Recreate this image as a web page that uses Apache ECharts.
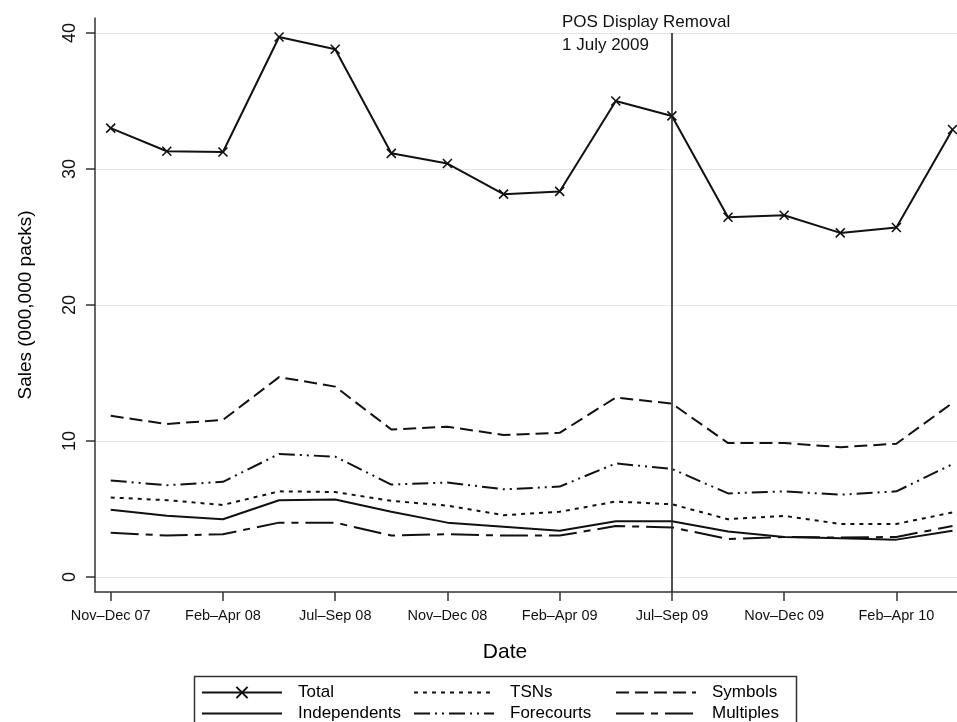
<!DOCTYPE html>
<html>
<head>
<meta charset="utf-8">
<script src="https://cdn.jsdelivr.net/npm/echarts@6/dist/echarts.min.js"></script>
<style>
html,body{margin:0;padding:0;background:#fff;}
#chart{width:957px;height:722px;}
</style>
</head>
<body>
<div id="chart"></div>
<script>
// ---- data ----
const categories = ["Nov–Dec 07","Jan 08","Feb–Apr 08","May–Jun 08","Jul–Sep 08","Oct 08","Nov–Dec 08","Jan 09","Feb–Apr 09","May–Jun 09","Jul–Sep 09","Oct 09","Nov–Dec 09","Jan 10","Feb–Apr 10","May–Jun 10"];
const labelledIdx = [0,2,4,6,8,10,12,14];
const yTicks = [0,10,20,30,40];
const total        = [33.0,31.3,31.25,39.7,38.8,31.15,30.4,28.15,28.35,35.0,33.9,26.45,26.6,25.3,25.7,32.9];
const tsns         = [5.85,5.65,5.3,6.3,6.25,5.6,5.25,4.55,4.8,5.55,5.35,4.25,4.5,3.9,3.9,4.75];
const symbols      = [11.85,11.25,11.55,14.7,14.0,10.85,11.05,10.45,10.6,13.2,12.75,9.85,9.85,9.55,9.8,12.8];
const independents = [4.95,4.5,4.25,5.65,5.7,4.8,4.0,3.7,3.4,4.1,4.1,3.35,2.95,2.85,2.75,3.4];
const forecourts   = [7.1,6.75,7.0,9.05,8.85,6.8,6.95,6.45,6.65,8.35,7.95,6.15,6.3,6.05,6.3,8.3];
const multiples    = [3.25,3.05,3.15,4.0,4.0,3.05,3.15,3.05,3.05,3.75,3.65,2.8,2.95,2.9,2.95,3.75];
const eventIdx = 10;
const eventText = ["POS Display Removal","1 July 2009"];
const legendColumns = [["Total","Independents"],["TSNs","Forecourts"],["Symbols","Multiples"]];

// ---- chart ----
const FONT = "'Liberation Sans', Arial, Helvetica, sans-serif";
const Y_MIN = -1.1, Y_MAX = 41.1;
const X_MIN = -0.28, X_MAX = 15.08;
const pairs = arr => arr.map((v,i)=>[i,v]);

function lineSeries(name, data, dash, extra){
  return Object.assign({
    name: name,
    type: 'line',
    data: pairs(data),
    symbol: 'none',
    showSymbol: false,
    silent: true,
    animation: false,
    lineStyle: {color:'#111', width:2, type: dash},
    itemStyle: {color:'#111'},
    z: 3
  }, extra || {});
}

const legendLefts = [201, 413, 615];
const chart = echarts.init(document.getElementById('chart'), null, {renderer:'canvas'});
const option = {
  backgroundColor: '#fff',
  animation: false,
  textStyle: {fontFamily: FONT},
  grid: {left:95, right:0, top:18, bottom:130, containLabel:false, outerBoundsMode:'none'},
  xAxis: {
    type: 'value',
    min: X_MIN, max: X_MAX,
    name: 'Date',
    nameLocation: 'middle',
    nameGap: 50,
    nameTextStyle: {fontSize: 21, color:'#000', fontFamily: FONT, padding:[0,42,0,0]},
    axisLine: {show:true, onZero:false, lineStyle:{color:'#333', width:1.5}},
    axisTick: {show:true, length:9, customValues: labelledIdx, lineStyle:{color:'#333', width:1.5}},
    axisLabel: {show:true, customValues: labelledIdx, margin:16, fontSize:14.5, color:'#111', fontFamily: FONT,
      formatter: v => categories[Math.round(v)]},
    splitLine: {show:false}
  },
  yAxis: {
    type: 'value',
    min: Y_MIN, max: Y_MAX,
    name: 'Sales (000,000 packs)',
    nameLocation: 'middle',
    nameRotate: 90,
    nameGap: 60,
    nameTextStyle: {fontSize: 19, color:'#000', fontFamily: FONT},
    axisLine: {show:true, onZero:false, lineStyle:{color:'#333', width:1.5}},
    axisTick: {show:true, length:9, customValues: yTicks, lineStyle:{color:'#333', width:1.5}},
    axisLabel: {show:true, customValues: yTicks, rotate:90, margin:16, fontSize:18, color:'#111', fontFamily: FONT},
    splitLine: {show:true, lineStyle:{color:'#e6e6e6', width:1.2}}
  },
  legend: legendColumns.map((names, k) => ({
    data: names.map(n => n === 'Total' ? {name:n} : {name:n, itemStyle:{opacity:0}}),
    orient: 'vertical',
    left: legendLefts[k], top: 684, height: 80,
    itemWidth: 80, itemHeight: 14, itemGap: 4, padding: 0, selectedMode: false,
    textStyle: {fontSize: 17, color:'#000', fontFamily: FONT, padding:[0,0,0,11]}
  })),
  graphic: [
    {type:'rect', left:192, top:674, silent:true, z:0,
      shape:{width:602, height:60}, style:{fill:'none', stroke:'#333', lineWidth:1.5}},
    {type:'text', left:562, top:11, silent:true,
      style:{text: eventText.join('\n'), fontSize:17, lineHeight:23, fill:'#111', fontFamily: FONT}}
  ],
  series: [
    lineSeries('Total', total, 'solid', {
      symbol: 'path://M0,0L10,10M10,0L0,10',
      showSymbol: true,
      symbolSize: 9,
      itemStyle: {color:'#111', borderColor:'#111', borderWidth:1.6},
      markLine: {
        silent: true, symbol: ['none','none'], animation:false,
        label: {show:false},
        lineStyle: {color:'#222', width:1.6, type:'solid'},
        data: [[{coord:[eventIdx, 40]}, {coord:[eventIdx, Y_MIN]}]]
      }
    }),
    lineSeries('Independents', independents, 'solid'),
    lineSeries('TSNs', tsns, [4,5]),
    lineSeries('Forecourts', forecourts, [16,5,2,5,2,5]),
    lineSeries('Symbols', symbols, [13,6]),
    lineSeries('Multiples', multiples, [28,7,7,7])
  ]
};
chart.setOption(option);
</script>
</body>
</html>
